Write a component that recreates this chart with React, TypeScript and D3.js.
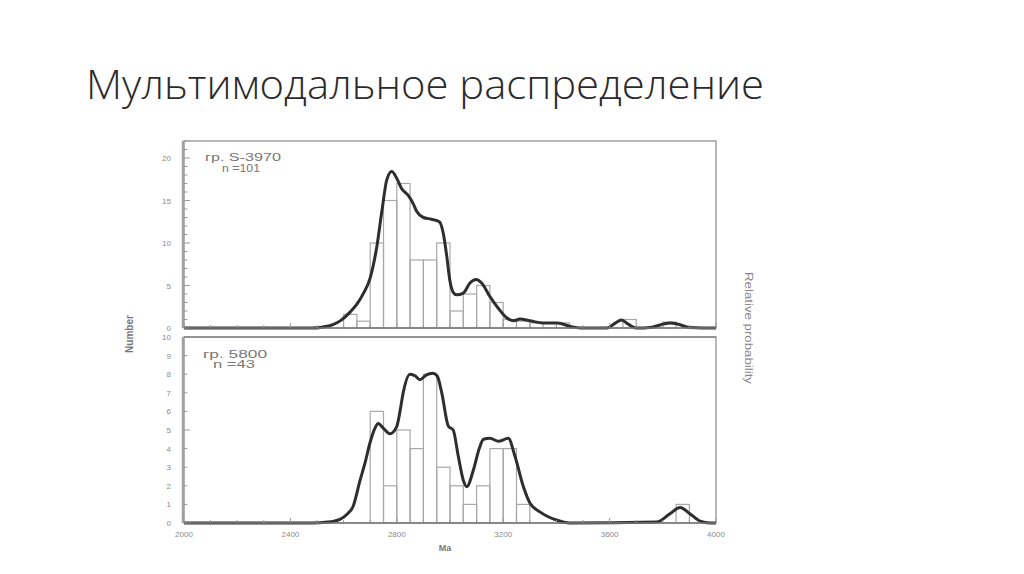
import React from "react";
import * as d3 from "d3";

// ---------- data ----------
const titleText = "Мультимодальное распределение";
const xTickValues = [2000, 2400, 2800, 3200, 3600, 4000];
const topYTicks = [0, 5, 10, 15, 20];
const bottomYTicks = [0, 1, 2, 3, 4, 5, 6, 7, 8, 9, 10];

// top sample histogram (50 Ma bins, bin start in Ma)
const topBinStart = [2600, 2650, 2700, 2750, 2800, 2850, 2900, 2950, 3000, 3050, 3100, 3150, 3200, 3250, 3300, 3400, 3650, 3800];
const topCounts = [1.6, 0.8, 10, 15, 17, 8, 8, 10, 2, 4, 5, 3, 1, 0.8, 0.6, 0.6, 1, 0.7];
// top relative probability curve (Ma, value in count units)
const topCurveAge = [2000, 2480, 2520, 2560, 2590, 2625, 2650, 2675, 2700, 2725, 2745, 2762, 2781, 2800, 2818, 2843, 2862, 2875, 2900, 2930, 2960, 2975, 2988, 3000, 3012, 3025, 3050, 3075, 3098, 3119, 3150, 3182, 3213, 3240, 3263, 3300, 3350, 3405, 3450, 3490, 3590, 3620, 3645, 3670, 3700, 3760, 3800, 3827, 3858, 3900, 3950, 4000];
const topCurveVal = [0, 0, 0.1, 0.4, 0.9, 1.9, 2.8, 4.1, 5.9, 9.6, 14, 17.4, 18.4, 17.6, 16.4, 15.6, 14.6, 13.7, 13.0, 12.8, 12.5, 11.1, 8.4, 5.5, 4.2, 3.9, 4.1, 5.3, 5.7, 5.3, 3.7, 2.3, 1.2, 0.85, 1.05, 0.85, 0.6, 0.6, 0.2, 0, 0, 0.55, 0.95, 0.45, 0, 0.1, 0.45, 0.6, 0.45, 0.05, 0, 0];

// bottom sample histogram
const botBinStart = [2700, 2750, 2800, 2850, 2900, 2950, 3000, 3050, 3100, 3150, 3200, 3250, 3850];
const botCounts = [6, 2, 5, 4, 8, 3, 2, 1, 2, 4, 4, 1, 1];
const botCurveAge = [2000, 2480, 2540, 2586, 2615, 2636, 2662, 2680, 2699, 2718, 2730, 2749, 2774, 2800, 2812, 2824, 2850, 2870, 2887, 2910, 2935, 2952, 2969, 2994, 3012, 3031, 3050, 3063, 3088, 3110, 3126, 3150, 3182, 3219, 3244, 3276, 3301, 3338, 3400, 3450, 3777, 3827, 3865, 3902, 3940, 3977, 4000];
const botCurveVal = [0, 0, 0.05, 0.2, 0.5, 0.9, 2.3, 3.2, 4.3, 5.1, 5.35, 5.1, 4.8, 5.2, 6.0, 7.0, 8.0, 7.9, 7.7, 7.95, 8.05, 7.9, 7.0, 5.2, 5.0, 3.6, 2.3, 1.95, 2.85, 4.0, 4.5, 4.55, 4.4, 4.55, 3.6, 1.95, 1.06, 0.6, 0.16, 0, 0.05, 0.5, 0.84, 0.5, 0.1, 0, 0];

const binWidth = 50;
const topLabel1 = "гр. S-3970";
const topLabel2 = "n =101";
const botLabel1 = "гр. 5800";
const botLabel2 = "n =43";

export default function App() {
  const x = d3.scaleLinear().domain([2000, 4000]).range([184, 716]);
  const yTop = d3.scaleLinear().domain([0, 22]).range([328, 141]);
  const yBot = d3.scaleLinear().domain([0, 10]).range([523, 337]);

  const gray = "#9a9a9a";
  const curveColor = "#2e2e2e";
  const labelColor = "#8a8a8a";

  const panel = (
    key: string,
    y: d3.ScaleLinear<number, number>,
    bins: number[],
    counts: number[],
    ages: number[],
    vals: number[],
    yTicks: number[],
    majorEvery: number,
    lab1: string,
    lab2: string,
    lab1Pos: [number, number, number],
    lab2Pos: [number, number, number]
  ) => {
    const line = d3
      .line<number>()
      .x((_, i) => x(ages[i]))
      .y((_, i) => y(vals[i]))
      .curve(d3.curveMonotoneX);
    const [y0, y1] = y.range();
    const yMax = y.domain()[1];
    const minor = d3.range(0, yMax + 0.001, 1);
    const xMinor = d3.range(2000, 4001, 100);
    return (
      <g key={key}>
        <rect x={x(2000)} y={y1} width={x(4000) - x(2000)} height={y0 - y1} fill="white" stroke={gray} strokeWidth={1.4} />
        {bins.map((b, i) => (
          <rect
            key={i}
            x={x(b)}
            y={y(counts[i])}
            width={x(b + binWidth) - x(b)}
            height={y(0) - y(counts[i])}
            fill="none"
            stroke="#a8a8a8"
            strokeWidth={1.2}
          />
        ))}
        <path d={line(ages) || ""} fill="none" stroke={curveColor} strokeWidth={3} strokeLinejoin="round" />
        <line x1={x(2000) - 1} x2={x(2000) - 1} y1={y1} y2={y0} stroke="#a0a0a0" strokeWidth={2.5} />
        {minor.map((v) => (
          <line
            key={"m" + v}
            x1={x(2000)}
            x2={x(2000) + (v % majorEvery === 0 ? 6 : 3.5)}
            y1={y(v)}
            y2={y(v)}
            stroke={gray}
            strokeWidth={1}
          />
        ))}
        {yTicks.map((v) => (
          <text
            key={"t" + v}
            x={171}
            y={y(v) + 3}
            textAnchor="end"
            fontFamily="Liberation Sans, Arial, sans-serif"
            fontSize={8}
            fill={labelColor}
          >
            {v}
          </text>
        ))}
        {xMinor.map((v) => (
          <line key={"x" + v} x1={x(v)} x2={x(v)} y1={y0} y2={y0 - ((v - 2000) % 400 === 0 ? 5 : 3)} stroke={gray} strokeWidth={1} />
        ))}
        <line x1={x(2000)} x2={x(4000)} y1={y0} y2={y0} stroke="#7a7a7a" strokeWidth={1.6} />
        <text x={lab1Pos[0]} y={lab1Pos[1]} fontFamily="Liberation Sans, Arial, sans-serif" fontSize={10} fill="#777" textLength={lab1Pos[2]} lengthAdjust="spacingAndGlyphs">
          {lab1}
        </text>
        <text x={lab2Pos[0]} y={lab2Pos[1]} fontFamily="Liberation Sans, Arial, sans-serif" fontSize={10} fill="#777" textLength={lab2Pos[2]} lengthAdjust="spacingAndGlyphs">
          {lab2}
        </text>
      </g>
    );
  };

  return (
    <svg
      width={1024}
      height={574}
      viewBox="0 0 1024 574"
      style={{ position: "absolute", left: 0, top: 0, background: "white" }}
    >
      <rect x={0} y={0} width={1024} height={574} fill="white" />
      <text
        x={86}
        y={99}
        fontFamily="Open Sans, Lato, sans-serif"
        fontWeight={300}
        fontSize={40}
        fill="#2b2b2b"
        textLength={678}
        lengthAdjust="spacingAndGlyphs"
      >
        {titleText}
      </text>

      {panel("top", yTop, topBinStart, topCounts, topCurveAge, topCurveVal, topYTicks, 5, topLabel1, topLabel2, [205, 161, 76], [222, 172, 38])}
      {panel("bot", yBot, botBinStart, botCounts, botCurveAge, botCurveVal, bottomYTicks, 5, botLabel1, botLabel2, [203, 358, 64], [213, 368, 42])}

      <line x1={x(2000)} x2={x(4000)} y1={337} y2={337} stroke="#888" strokeWidth={1.4} />

      {xTickValues.map((v) => (
        <text
          key={v}
          x={x(v)}
          y={537}
          textAnchor="middle"
          fontFamily="Liberation Sans, Arial, sans-serif"
          fontSize={8}
          fill={labelColor}
        >
          {v}
        </text>
      ))}
      <text x={445} y={551} textAnchor="middle" fontFamily="Liberation Sans, Arial, sans-serif" fontSize={9} fontWeight="bold" fill="#777">
        Ma
      </text>
      <text
        transform="translate(133,334) rotate(-90)"
        textAnchor="middle"
        fontFamily="Liberation Sans, Arial, sans-serif"
        fontSize={10}
        fontWeight="bold"
        fill="#777"
      >
        Number
      </text>
      <text
        transform="translate(745,328) rotate(90)"
        textAnchor="middle"
        fontFamily="Liberation Sans, Arial, sans-serif"
        fontSize={10}
        fill="#888"
        textLength={112}
        lengthAdjust="spacingAndGlyphs"
      >
        Relative probability
      </text>
    </svg>
  );
}
